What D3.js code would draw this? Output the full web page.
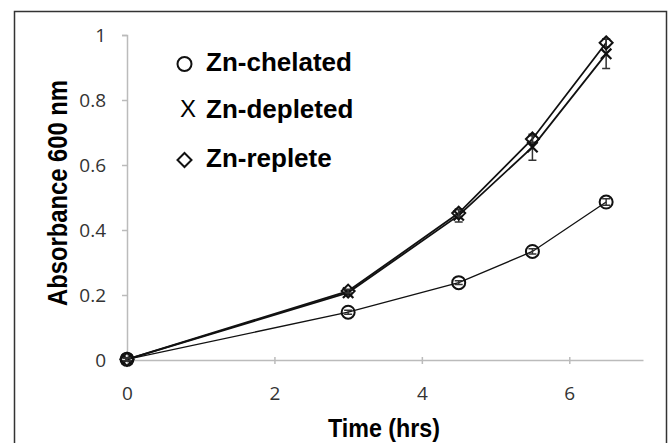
<!DOCTYPE html>
<html>
<head>
<meta charset="utf-8">
<script src="https://cdn.jsdelivr.net/npm/d3@7"></script>
<style>
  body { margin: 0; background: #fff; }
  svg { display: block; }
</style>
</head>
<body>
<svg id="chart" width="669" height="443"></svg>
<script>
// values
const hours = [0, 3, 4.5, 5.5, 6.5]
const chelated = [0.002, 0.147, 0.238, 0.334, 0.486]
const chelatedErr = [0.004, 0.006, 0.006, 0.008, 0.01]
const depleted = [0.002, 0.207, 0.445, 0.655, 0.942]
const depletedErr = [0.004, 0.008, 0.02, 0.04, 0.045]
const replete = [0.002, 0.212, 0.452, 0.68, 0.976]
const repleteErr = [0.004, 0.006, 0.01, 0.01, 0.012]
const xTicks = [0, 2, 4, 6]
const yTicks = [0, 0.2, 0.4, 0.6, 0.8, 1]
const legendNames = ['Zn-chelated', 'Zn-depleted', 'Zn-replete']

const svg = d3.select('#chart')

// frame round the figure
svg.append('rect')
  .attr('x', 14.5).attr('y', 11.5)
  .attr('width', 652).attr('height', 440)
  .attr('fill', 'none')
  .attr('stroke', '#333')
  .attr('stroke-width', 1.5)

const x = d3.scaleLinear().domain([0, 7]).range([127, 643])
const y = d3.scaleLinear().domain([0, 1]).range([360, 35])

const tickFont = '"Open Sans", sans-serif'
const boldFont = '"Liberation Sans", Arial, sans-serif'

// y axis
const yAxis = svg.append('g')
  .attr('transform', `translate(${x(0)},0)`)
  .call(d3.axisLeft(y).tickValues(yTicks).tickSize(5).tickPadding(16)
    .tickFormat(d => d === 0 ? '0' : d === 1 ? '1' : d3.format('.1f')(d)))
yAxis.select('.domain').attr('stroke', '#bbb').attr('stroke-width', 1.5)
yAxis.selectAll('.tick line').attr('stroke', '#bbb').attr('stroke-width', 1.5)
yAxis.selectAll('.tick text')
  .attr('fill', '#333')
  .style('font-family', tickFont)
  .style('font-size', '19px')

// x axis, ticks straddle the line
const xAxis = svg.append('g')
  .attr('transform', `translate(0,${y(0)})`)
  .call(d3.axisBottom(x).tickValues(xTicks).tickFormat(d3.format('d'))
    .tickSizeInner(4).tickSizeOuter(0).tickPadding(23))
xAxis.select('.domain').attr('stroke', '#bbb').attr('stroke-width', 1.5)
xAxis.selectAll('.tick line').attr('y1', -3).attr('stroke', '#bbb').attr('stroke-width', 1.5)
xAxis.selectAll('.tick text')
  .attr('fill', '#333')
  .style('font-family', tickFont)
  .style('font-size', '19px')

// axis titles, squeezed to the narrow face of the original
svg.append('text')
  .attr('transform', 'translate(67,193) rotate(-90)')
  .attr('text-anchor', 'middle')
  .attr('textLength', 226)
  .attr('lengthAdjust', 'spacingAndGlyphs')
  .style('font-family', boldFont)
  .style('font-weight', 'bold')
  .style('font-size', '27px')
  .text('Absorbance 600 nm')

svg.append('text')
  .attr('x', 384).attr('y', 437)
  .attr('text-anchor', 'middle')
  .attr('textLength', 112)
  .attr('lengthAdjust', 'spacingAndGlyphs')
  .style('font-family', boldFont)
  .style('font-weight', 'bold')
  .style('font-size', '26px')
  .text('Time (hrs)')

// series
const series = [
  { name: legendNames[1], vals: depleted, err: depletedErr, marker: 'x', width: 1.8 },
  { name: legendNames[2], vals: replete, err: repleteErr, marker: 'diamond', width: 1.8 },
  { name: legendNames[0], vals: chelated, err: chelatedErr, marker: 'circle', width: 1.3 }
]

const line = d3.line()
  .x(d => x(d[0]))
  .y(d => y(d[1]))

function drawMarker (g, type, cx, cy, s) {
  if (type === 'circle') {
    g.append('circle')
      .attr('cx', cx).attr('cy', cy).attr('r', s)
      .attr('fill', 'none').attr('stroke', '#111').attr('stroke-width', 2)
  } else if (type === 'diamond') {
    g.append('path')
      .attr('d', `M${cx},${cy - s}L${cx + s},${cy}L${cx},${cy + s}L${cx - s},${cy}Z`)
      .attr('fill', 'none').attr('stroke', '#111').attr('stroke-width', 2)
  } else {
    g.append('path')
      .attr('d', `M${cx - s * 0.8},${cy - s * 0.8}L${cx + s * 0.8},${cy + s * 0.8}M${cx + s * 0.8},${cy - s * 0.8}L${cx - s * 0.8},${cy + s * 0.8}`)
      .attr('fill', 'none').attr('stroke', '#111').attr('stroke-width', 2.2)
  }
}

series.forEach(s => {
  const pts = hours.map((h, i) => [h, s.vals[i]])
  const g = svg.append('g')
  g.append('path')
    .datum(pts)
    .attr('d', line)
    .attr('fill', 'none')
    .attr('stroke', '#111')
    .attr('stroke-width', s.width)

  // error bars
  hours.forEach((h, i) => {
    const cx = x(h)
    const lo = y(s.vals[i] - s.err[i])
    const hi = y(s.vals[i] + s.err[i])
    g.append('path')
      .attr('d', `M${cx},${lo}L${cx},${hi}M${cx - 4},${lo}L${cx + 4},${lo}M${cx - 4},${hi}L${cx + 4},${hi}`)
      .attr('stroke', '#333')
      .attr('stroke-width', 1.5)
      .attr('fill', 'none')
  })

  pts.forEach(p => drawMarker(g, s.marker, x(p[0]), y(p[1]), 6.5))
})

// legend
const legendY = [71, 118, 167]
const legendMarks = ['circle', 'x', 'diamond']
legendNames.forEach((name, i) => {
  const lg = svg.append('g')
  if (legendMarks[i] === 'x') {
    lg.append('text')
      .attr('x', 188).attr('y', legendY[i] - 1)
      .attr('text-anchor', 'middle')
      .style('font-family', boldFont)
      .style('font-size', '24px')
      .text('X')
  } else {
    drawMarker(lg, legendMarks[i], 184.5, legendY[i] - 7, 7)
  }
  lg.append('text')
    .attr('x', 206).attr('y', legendY[i])
    .style('font-family', boldFont)
    .style('font-weight', 'bold')
    .style('font-size', '26px')
    .text(name)
})
</script>
</body>
</html>
